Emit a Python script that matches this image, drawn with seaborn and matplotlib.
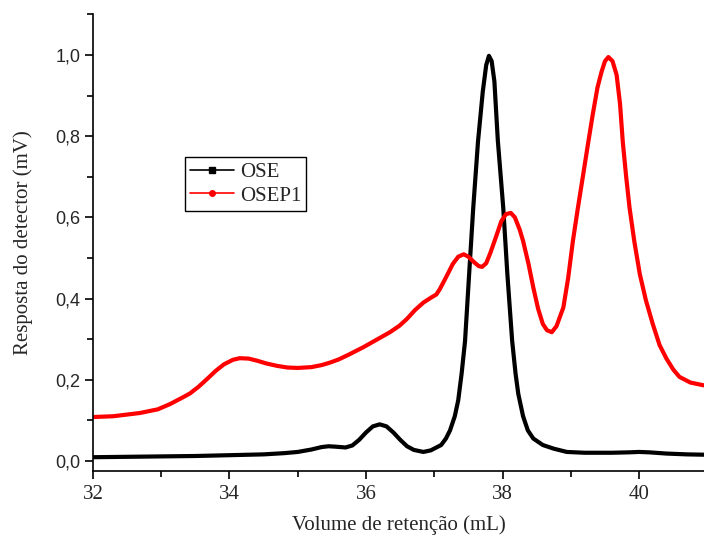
import matplotlib
matplotlib.use("Agg")
import matplotlib.pyplot as plt
import seaborn as sns
import pandas as pd
from matplotlib.lines import Line2D
from matplotlib.ticker import MultipleLocator, FuncFormatter

# ---- data ----
ose_x = [32.0, 32.5, 33.0, 33.5, 34.0, 34.5, 34.8, 35.0, 35.2, 35.35, 35.45, 35.55, 35.7,
         35.8, 35.9, 36.0, 36.1, 36.2, 36.3, 36.4, 36.5, 36.6, 36.7, 36.84, 36.95, 37.03,
         37.1, 37.17, 37.23, 37.30, 37.35, 37.40, 37.45, 37.51, 37.57, 37.64, 37.71, 37.76,
         37.80, 37.84, 37.88, 37.93, 38.01, 38.07, 38.14, 38.19, 38.23, 38.30, 38.37, 38.45,
         38.59, 38.75, 38.94, 39.2, 39.6, 39.85, 40.0, 40.15, 40.4, 40.7, 41.0]
ose_y = [0.009, 0.010, 0.011, 0.012, 0.014, 0.016, 0.019, 0.022, 0.028, 0.034, 0.036, 0.035, 0.033,
         0.038, 0.052, 0.070, 0.085, 0.090, 0.085, 0.070, 0.052, 0.036, 0.027, 0.022, 0.026, 0.033,
         0.039, 0.055, 0.075, 0.110, 0.149, 0.215, 0.295, 0.460, 0.623, 0.787, 0.910, 0.975,
         0.998, 0.985, 0.935, 0.790, 0.623, 0.460, 0.296, 0.215, 0.165, 0.110, 0.075, 0.055,
         0.039, 0.030, 0.022, 0.020, 0.020, 0.021, 0.022, 0.021, 0.018, 0.016, 0.015]

osep1_x = [32.0, 32.3, 32.69, 32.95, 33.13, 33.3, 33.42, 33.55, 33.68, 33.8, 33.92, 34.05, 34.15,
           34.28, 34.4, 34.54, 34.7, 34.85, 35.0, 35.2, 35.35, 35.47, 35.6, 35.75, 35.96, 36.15,
           36.35, 36.49, 36.6, 36.72, 36.84, 36.95, 37.03, 37.08, 37.18, 37.27, 37.35, 37.43,
           37.50, 37.58, 37.65, 37.70, 37.76, 37.82, 37.91, 37.98, 38.05, 38.12, 38.18, 38.25,
           38.3, 38.38, 38.45, 38.52, 38.59, 38.65, 38.72, 38.79, 38.89, 38.96, 39.03, 39.1,
           39.18, 39.25, 39.32, 39.39, 39.45, 39.50, 39.55, 39.61, 39.67, 39.72, 39.76, 39.81,
           39.86, 39.93, 40.01, 40.1, 40.2, 40.3, 40.4, 40.5, 40.59, 40.75, 40.95]
osep1_y = [0.108, 0.110, 0.118, 0.127, 0.140, 0.155, 0.166, 0.183, 0.203, 0.222, 0.238, 0.249, 0.253,
           0.252, 0.247, 0.240, 0.234, 0.230, 0.229, 0.231, 0.236, 0.242, 0.250, 0.262, 0.280, 0.298,
           0.317, 0.333, 0.350, 0.372, 0.390, 0.402, 0.410, 0.423, 0.455, 0.485, 0.503, 0.509,
           0.503, 0.490, 0.480, 0.478, 0.487, 0.512, 0.555, 0.590, 0.608, 0.611, 0.600, 0.570,
           0.542, 0.485, 0.427, 0.375, 0.337, 0.322, 0.317, 0.332, 0.378, 0.450, 0.542, 0.620,
           0.705, 0.780, 0.853, 0.920, 0.959, 0.985, 0.995, 0.985, 0.951, 0.880, 0.787, 0.700,
           0.623, 0.540, 0.460, 0.395, 0.337, 0.285, 0.252, 0.225, 0.207, 0.193, 0.186]

series_names = ["OSE", "OSEP1"]
series_colors = ["#000000", "#ff0000"]

xlabel = "Volume de retenção (mL)"
ylabel = "Resposta do detector (mV)"

# ---- plot ----
sns.set_style("ticks")
fig = plt.figure(figsize=(7.04, 5.35), dpi=100)
ax = fig.add_axes([0.132, 0.1196, 0.868, 0.8534])

df_ose = pd.DataFrame({"x": ose_x, "y": ose_y})
df_p1 = pd.DataFrame({"x": osep1_x, "y": osep1_y})
sns.lineplot(data=df_ose, x="x", y="y", ax=ax, color=series_colors[0], lw=3.0,
             sort=False, estimator=None)
sns.lineplot(data=df_p1, x="x", y="y", ax=ax, color=series_colors[1], lw=3.0,
             sort=False, estimator=None)

ax.set_xlim(32, 40.95)
ax.set_ylim(-0.025, 1.1)

for side in ["top", "right"]:
    ax.spines[side].set_visible(False)
for side in ["left", "bottom"]:
    ax.spines[side].set_linewidth(1.2)
    ax.spines[side].set_color("black")

ax.xaxis.set_major_locator(MultipleLocator(2))
ax.xaxis.set_minor_locator(MultipleLocator(1))
ax.yaxis.set_major_locator(MultipleLocator(0.2))
ax.yaxis.set_minor_locator(MultipleLocator(0.1))
ax.yaxis.set_major_formatter(FuncFormatter(lambda v, p: f"{v:.1f}".replace(".", ",")))
ax.tick_params(axis="both", which="major", direction="out", length=6, width=1.2, color="black")
ax.tick_params(axis="both", which="minor", direction="out", length=4, width=1.2, color="black")

for lab in ax.get_xticklabels():
    lab.set_fontfamily("Liberation Serif")
    lab.set_fontsize(15)
for lab in ax.get_yticklabels():
    lab.set_fontfamily("Liberation Sans")
    lab.set_fontsize(13)
ax.tick_params(axis="x", pad=4)
ax.tick_params(axis="y", pad=3)

ax.set_xlabel(xlabel, fontfamily="Liberation Serif", fontsize=15, labelpad=8)
ax.set_ylabel(ylabel, fontfamily="Liberation Serif", fontsize=15, labelpad=16)

handles = [
    Line2D([], [], color=series_colors[0], lw=1.2, marker="s", markersize=4),
    Line2D([], [], color=series_colors[1], lw=1.2, marker="o", markersize=4),
]
leg = ax.legend(handles, series_names, loc="upper left", bbox_to_anchor=(0.15, 0.6875),
                borderaxespad=0, fancybox=False, framealpha=1, edgecolor="black",
                prop={"family": "Liberation Serif", "size": 15}, handlelength=2.1,
                handletextpad=0.3, borderpad=0.25, labelspacing=0.2)
leg.get_frame().set_linewidth(1.0)

fig.savefig("out.png", dpi=100)
